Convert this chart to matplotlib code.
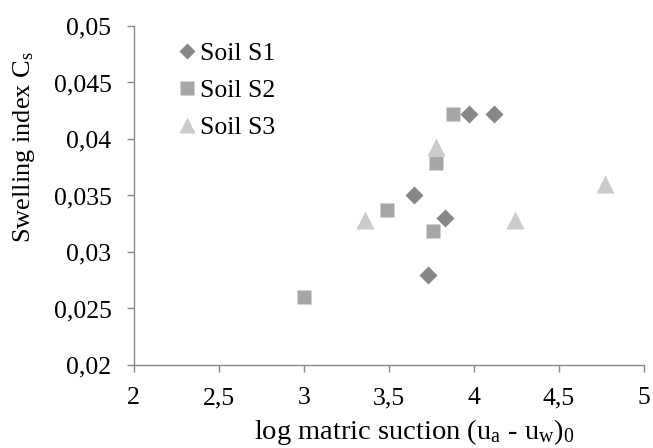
import matplotlib
matplotlib.use("Agg")
import matplotlib.pyplot as plt
from matplotlib.ticker import FixedLocator, FixedFormatter

# Data
s1_x = [3.97, 4.12, 3.65, 3.83, 3.73]
s1_y = [0.0422, 0.0422, 0.0350, 0.0330, 0.0280]
s2_x = [3.88, 3.78, 3.49, 3.76, 3.00]
s2_y = [0.0422, 0.0379, 0.0337, 0.0319, 0.0260]
s3_x = [3.78, 3.36, 4.24, 4.77]
s3_y = [0.0393, 0.0328, 0.0328, 0.0360]

x_ticks = [2, 2.5, 3, 3.5, 4, 4.5, 5]
x_tick_labels = ["2", "2,5", "3", "3,5", "4", "4,5", "5"]
y_ticks = [0.02, 0.025, 0.03, 0.035, 0.04, 0.045, 0.05]
y_tick_labels = ["0,02", "0,025", "0,03", "0,035", "0,04", "0,045", "0,05"]

plt.rcParams['font.family'] = ['Liberation Serif', 'DejaVu Serif']
plt.rcParams['mathtext.fontset'] = 'custom'
plt.rcParams['mathtext.rm'] = 'Liberation Serif'
plt.rcParams['mathtext.it'] = 'Liberation Serif:italic'

fig = plt.figure(figsize=(6.53, 4.48), dpi=100)
ax = fig.add_axes([0.2047, 0.1853, 0.7815, 0.7567])

c1, c2, c3 = '#878787', '#a6a6a6', '#cbcbcb'
ax.plot(s1_x, s1_y, ls='none', marker='D', ms=9.5, color=c1, mec='none', label='Soil S1', zorder=3)
ax.plot(s2_x, s2_y, ls='none', marker='s', ms=10.5, color=c2, mec='none', label='Soil S2', zorder=3)
ax.plot(s3_x, s3_y, ls='none', marker='^', ms=13, color=c3, mec='none', label='Soil S3', zorder=3)

ax.set_xlim(2, 5)
ax.set_ylim(0.02, 0.05)
ax.xaxis.set_major_locator(FixedLocator(x_ticks))
ax.xaxis.set_major_formatter(FixedFormatter(x_tick_labels))
ax.yaxis.set_major_locator(FixedLocator(y_ticks))
ax.yaxis.set_major_formatter(FixedFormatter(y_tick_labels))

for s in ['top', 'right']:
    ax.spines[s].set_visible(False)
for s in ['left', 'bottom']:
    ax.spines[s].set_color('#898989')
    ax.spines[s].set_linewidth(1.0)
ax.tick_params(axis='both', direction='out', length=5, width=1.0, color='#898989',
               labelsize=18.5, labelcolor='black')
ax.tick_params(axis='y', pad=11)
ax.tick_params(axis='x', pad=11)

ax.set_xlabel(r'log matric suction (u$_\mathrm{a}$ - u$_\mathrm{w}$)$_\mathrm{0}$', fontsize=20.5,
              va='baseline')
ax.xaxis.set_label_coords(0.549, -0.2183)
ax.set_ylabel(r'Swelling index C$_\mathrm{s}$', fontsize=19, va='center')
ax.yaxis.set_label_coords(-0.215, 0.643)

leg = ax.legend(loc='upper left', frameon=False, fontsize=18.5, handletextpad=0.0,
                handlelength=1.0, labelspacing=0.545, borderaxespad=0.0, borderpad=0.0,
                markerscale=0.9, bbox_to_anchor=(0.079, 0.954))

fig.savefig('out.png', dpi=100)
